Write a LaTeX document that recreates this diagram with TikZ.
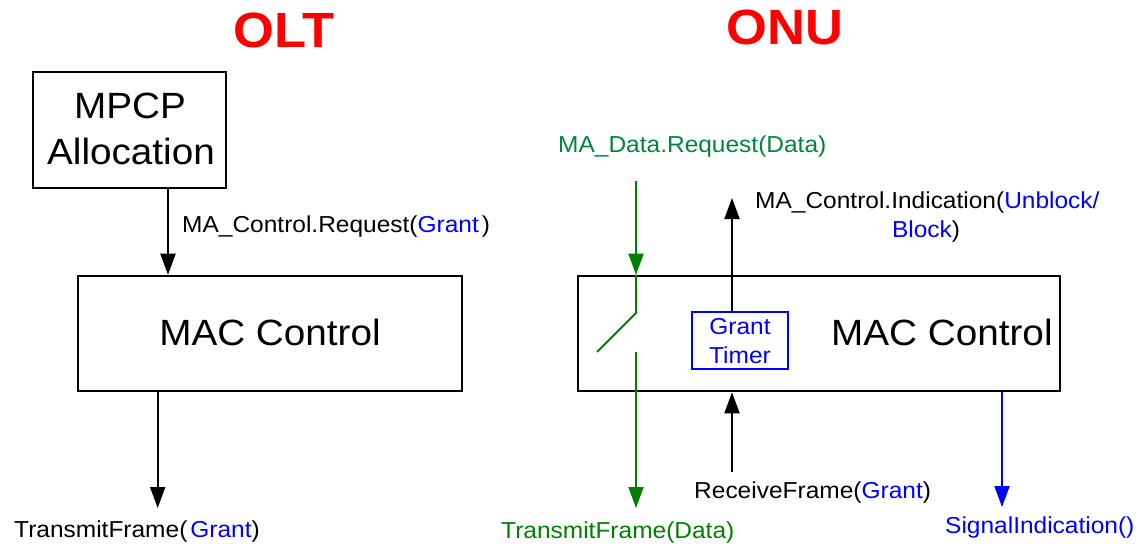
\documentclass[tikz,border=0pt]{standalone}
\usepackage{fontspec}
\setmainfont{Liberation Sans}[FakeStretch=1.06]
\usetikzlibrary{arrows.meta}
\definecolor{flowgreen}{RGB}{0,128,0}
\definecolor{reqgreen}{RGB}{0,132,62}
\definecolor{sigblue}{RGB}{0,0,255}
\definecolor{titlered}{RGB}{255,0,0}
\begin{document}
\begin{tikzpicture}[x=1pt,y=-1pt,
  box/.style={draw=black,line width=2.6pt,inner sep=0pt},
  timerbox/.style={draw=sigblue,line width=2pt,inner sep=0pt},
  conn/.style={line width=2pt,-{Triangle[length=21pt,width=15pt]}},
  wire/.style={line width=2pt},
  lbl/.style={inner sep=0pt,anchor=base west,font=\fontsize{23.1}{28}\selectfont},
  clbl/.style={lbl,anchor=base},
  big/.style={inner sep=0pt,font=\fontsize{36.5}{46}\selectfont},
  ttl/.style={inner sep=0pt,anchor=base,text=titlered,font=\fontsize{49.5}{52}\selectfont\bfseries},
]
\fill[white] (0,0) rectangle (1139,543);
\useasboundingbox (0,0) rectangle (1139,543);

% titles
\node[ttl] (olt) at (284,48) {OLT};
\node[ttl] (onu) at (785,45) {ONU};

% ---------------- OLT side ----------------
\node[box,minimum width=193pt,minimum height=116pt] (mpcp) at (129.5,130) {};
\node[big,anchor=base] (mpcpa) at (130,118) {MPCP};
\node[big,anchor=base] (mpcpb) at (131,164) {Allocation};

\node[box,minimum width=384pt,minimum height=115pt] (oltmac) at (270,333.5) {};
\node[big,anchor=base] (oltmactext) at (270,345) {MAC Control};

\coordinate (xreq) at (168,0);
\draw[conn] (mpcp.south -| xreq) -- (oltmac.north -| xreq);
\node[lbl] (reqlbl) at (182,232) {MA\_Control.Request(\textcolor{sigblue}{Grant}\hspace{3pt})};

\coordinate (txout) at (157.7,508);
\draw[conn] (oltmac.south -| txout) -- (txout);
\node[lbl] (txlbl) at (14,537) {TransmitFrame(\hspace{3pt}\textcolor{sigblue}{Grant})};

% ---------------- ONU side ----------------
\node[box,minimum width=482pt,minimum height=115pt] (onumac) at (819,333.5) {};
\node[big,anchor=base west] (onumactext) at (831,345) {MAC Control};

\node[timerbox,minimum width=96pt,minimum height=57pt] (timer) at (740,340.5) {};
\node[clbl,text=sigblue] (timera) at (740,334) {Grant};
\node[clbl,text=sigblue] (timerb) at (740,363) {Timer};

% data path through the gate switch
\node[lbl,text=reqgreen] (datareq) at (558,152) {MA\_Data.Request(Data)};
\coordinate (datain) at (636,181);
\coordinate (pivot) at (636,313);
\coordinate (blade) at (597,352);
\coordinate (contact) at (636,352);
\coordinate (dataout) at (636,508);
\draw[conn,flowgreen] (datain) -- (datain |- onumac.north);
\draw[wire,flowgreen] (datain |- onumac.north) -- (pivot) -- (blade);
\draw[conn,flowgreen] (contact) -- (dataout);
\node[lbl,text=flowgreen] (datatx) at (501,538) {TransmitFrame(Data)};

% control indication from the grant timer
\coordinate (ctlout) at (732,198);
\draw[conn] (timer.north -| ctlout) -- (ctlout);
\node[lbl] (indlbl) at (755,208) {MA\_Control.Indication(\textcolor{sigblue}{Unblock/}};
\node[clbl] (indlblb) at (926,237) {\textcolor{sigblue}{Block})};

% received grant
\coordinate (rxin) at (732,472);
\draw[conn] (rxin) -- (onumac.south -| rxin);
\node[lbl] (rxlbl) at (694,498) {ReceiveFrame(\textcolor{sigblue}{Grant})};

% signal indication
\coordinate (sigout) at (1002,507);
\draw[conn,sigblue] (onumac.south -| sigout) -- (sigout);
\node[lbl,text=sigblue] (siglbl) at (945,533) {SignalIndication()};
\end{tikzpicture}
\end{document}
